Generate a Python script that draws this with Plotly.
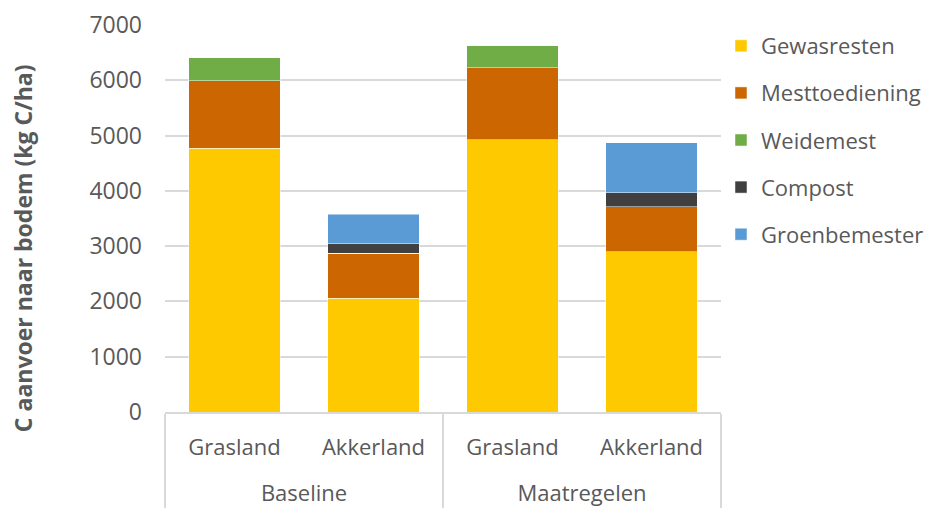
import plotly.graph_objects as go

scenarios = ["Baseline", "Baseline", "Maatregelen", "Maatregelen"]
landuse = ["Grasland", "Akkerland", "Grasland", "Akkerland"]

gewasresten = [4770, 2060, 4920, 2900]
mesttoediening = [1220, 815, 1310, 810]
weidemest = [420, 0, 400, 0]
compost = [0, 170, 0, 260]
groenbemester = [0, 535, 0, 900]

series = [
    ("Gewasresten", gewasresten, "#FFC900"),
    ("Mesttoediening", mesttoediening, "#CC6600"),
    ("Weidemest", weidemest, "#70AD47"),
    ("Compost", compost, "#404040"),
    ("Groenbemester", groenbemester, "#5B9BD5"),
]

font_family = "'Open Sans', sans-serif"
grey = "#595959"
fs = 23

# outer group labels get a leading line break so they sit lower under the land-use labels
outer = ["<br>" + s for s in scenarios]

fig = go.Figure()
for name, vals, color in series:
    fig.add_trace(go.Bar(
        x=[outer, landuse],
        y=vals,
        name=name,
        legendgroup=name,
        marker=dict(color=color, line=dict(color="rgba(255,255,255,0.6)", width=0.8)),
    ))

fig.update_layout(
    width=935,
    height=508,
    barmode="stack",
    bargap=0.34,
    plot_bgcolor="white",
    paper_bgcolor="white",
    margin=dict(l=165, r=214, t=25, b=96, autoexpand=False),
    font=dict(family=font_family, size=fs, color=grey),
    legend=dict(
        x=1.0, y=1.0, xanchor="left", yanchor="top",
        traceorder="grouped",
        tracegroupgap=15.5,
        font=dict(size=fs - 1, color=grey),
        itemwidth=30,
    ),
    xaxis=dict(
        type="multicategory",
        automargin=False,
        showline=True,
        linecolor="#d9d9d9",
        linewidth=1.5,
        showdividers=True,
        dividercolor="#d9d9d9",
        dividerwidth=1.5,
        tickfont=dict(size=fs - 1, color=grey),
        ticklabelstandoff=15,
    ),
    yaxis=dict(
        automargin=False,
        range=[0, 7000],
        dtick=1000,
        showgrid=True,
        gridcolor="#d9d9d9",
        gridwidth=1.5,
        zeroline=False,
        tickfont=dict(size=fs, color=grey),
        ticklabelstandoff=22,
    ),
)

fig.add_annotation(
    text="<b>C aanvoer naar bodem (kg C/ha)</b>",
    xref="paper", yref="paper",
    x=-0.255, y=0.424,
    xanchor="center", yanchor="middle",
    textangle=-90,
    showarrow=False,
    font=dict(size=fs, color=grey, family=font_family),
)

fig.write_html("out.html")
